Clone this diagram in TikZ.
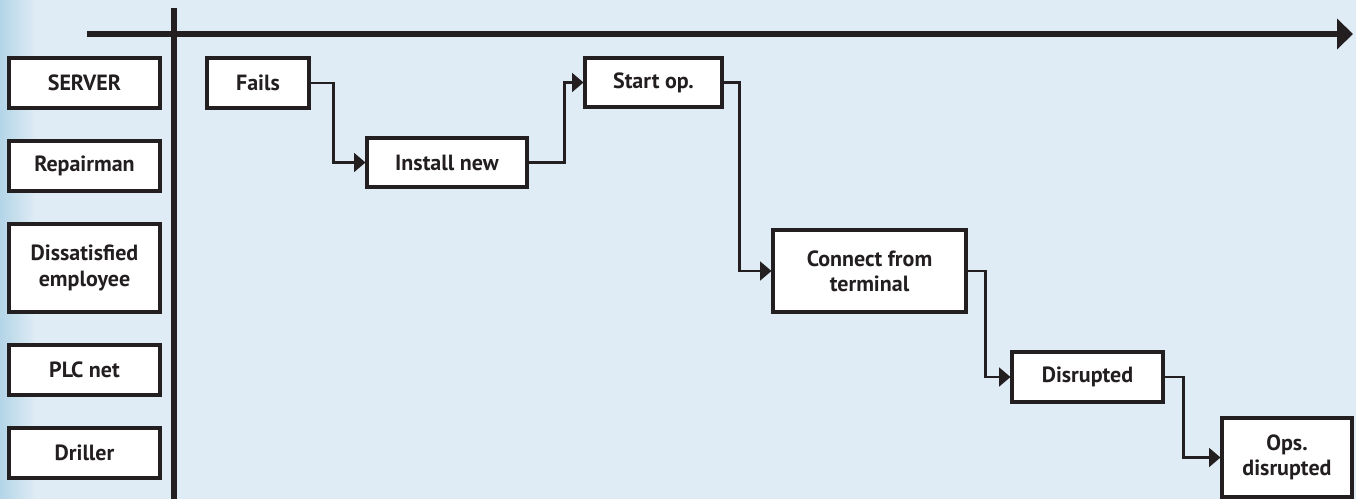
\documentclass[tikz,border=0pt]{standalone}
\usepackage{fontspec}
\setmainfont{PT Sans}
\usetikzlibrary{arrows.meta}
\definecolor{bgc}{HTML}{DFECF5}
\definecolor{edgec}{HTML}{B3D5E7}
\definecolor{ink}{HTML}{231F20}
\tikzset{
  box/.style={draw=ink, line width=2.3pt, fill=white, inner sep=0pt, align=center,
    text=ink, font=\fontsize{16.5}{19}\selectfont\bfseries},
  conn/.style={draw=ink, line width=1.9pt, -{Triangle[length=8.5pt,width=14pt]}},
  axis/.style={draw=ink, line width=4.5pt}
}
\begin{document}
\begin{tikzpicture}[x=0.75pt,y=-0.75pt]
\fill[bgc] (0,0) rectangle (1356,499);
\shade[left color=edgec, right color=bgc] (0,0) rectangle (36,499);
\useasboundingbox (0,0) rectangle (1356,499);
% axes
\coordinate (axl) at (87,34);
\coordinate (axr) at (1353,34);
\coordinate (axt) at (174,8);
\coordinate (axb) at (174,499);
\draw[axis, -{Triangle[length=12pt,width=22.5pt]}] (axl) -- (axr);
\draw[axis] (axt) -- (axb);
% actor boxes
\node[box, minimum width=113.25pt, minimum height=37.5pt] (server) at (84.5,83) {SERVER};
\node[box, minimum width=113.25pt, minimum height=37.5pt] (repair) at (84.5,166) {Repairman};
\node[box, minimum width=113.25pt, minimum height=66pt] (dissat) at (84.5,268) {Dissatisfied\\employee};
\node[box, minimum width=113.25pt, minimum height=37.5pt] (plc) at (84.5,370) {PLC net};
\node[box, minimum width=113.25pt, minimum height=37.5pt] (driller) at (84.5,453) {Driller};
% event boxes
\node[box, minimum width=76.5pt, minimum height=37.5pt] (fails) at (258,83) {Fails};
\node[box, minimum width=120pt, minimum height=36.75pt] (install) at (447,162.5) {Install new};
\node[box, minimum width=102.75pt, minimum height=36.75pt] (start) at (653.5,82.5) {Start op.};
\node[box, minimum width=144.75pt, minimum height=61.5pt] (connect) at (869.5,271) {Connect from\\terminal};
\node[box, minimum width=113.25pt, minimum height=37.5pt] (disrupted) at (1087.5,377) {Disrupted};
\node[box, minimum width=97.5pt, minimum height=59.25pt] (ops) at (1287,457.5) {Ops.\\disrupted};
% connectors
\draw[conn] (fails.east) -- ++(23,0) |- (install.west);
\draw[conn] (install.east) -- ++(36,0) |- (start.west);
\draw[conn] (start.east) -- ++(16,0) |- (connect.west);
\draw[conn] (connect.east) -- ++(18,0) |- (disrupted.west);
\draw[conn] (disrupted.east) -- ++(19,0) |- (ops.west);
\end{tikzpicture}
\end{document}
